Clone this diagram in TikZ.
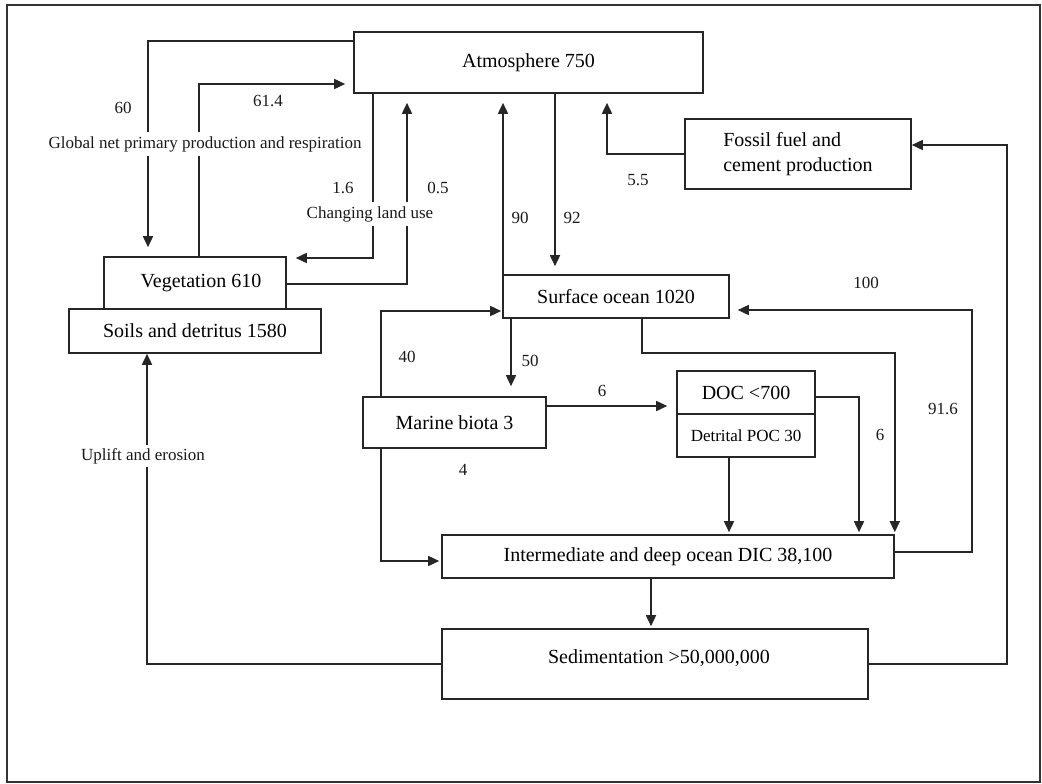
\documentclass[tikz,border=0pt]{standalone}
\usepackage{fontspec}
\setmainfont{Liberation Serif}
\usetikzlibrary{arrows.meta}
\tikzset{
  x=1pt, y=-1pt,
  box/.style={draw=black!85, line width=1.6pt, rectangle, inner sep=0pt, font=\fontsize{20}{25}\selectfont},
  lbl/.style={inner sep=2pt, font=\fontsize{17}{20}\selectfont, text=black!90},
  wlbl/.style={lbl, fill=white, inner sep=4pt},
  arr/.style={draw=black!85, line width=1.6pt, -{Triangle[length=11pt,width=10pt]}},
  ln/.style={draw=black!85, line width=1.6pt}
}
\begin{document}
\begin{tikzpicture}
\useasboundingbox (0,0) rectangle (1042,784);
\draw[line width=2pt, black!80] (7,5) rectangle (1040,782);

% boxes
\node[box, minimum width=349pt, minimum height=61pt] (atm) at (528.5,62.5) {Atmosphere 750};
\node[box, minimum width=226pt, minimum height=70pt, align=left] (fossil) at (798,154) {Fossil fuel and\\cement production};
\node[box, minimum width=182pt, minimum height=52pt] (veg) at (195,283) {\hspace*{12pt}Vegetation 610};
\node[box, minimum width=252pt, minimum height=44pt] (soils) at (195,331) {Soils and detritus 1580};
\node[box, minimum width=226pt, minimum height=43pt] (surf) at (616,296.5) {Surface ocean 1020};
\node[box, minimum width=183pt, minimum height=51pt] (marine) at (454.5,422.5) {Marine biota 3};
\node[box, minimum width=138pt, minimum height=43pt] (doctop) at (746,392.5) {DOC <700};
\node[box, minimum width=138pt, minimum height=43pt, font=\fontsize{17}{20}\selectfont] (docbot) at (746,435.5) {Detrital POC 30};
\node[box, minimum width=452pt, minimum height=43pt] (int) at (668,556.5) {Intermediate and deep ocean DIC 38,100};
\node[box, minimum width=426pt, minimum height=70pt] (sed) at (655,664) {};
\node[box, draw=none] (sedtxt) at (659,658) {Sedimentation >50,000,000};

% helper coordinates
\coordinate (c60) at (148,41);
\coordinate (c614) at (199,84);
\coordinate (c16) at (373,258);
\coordinate (c05) at (407,284);
\coordinate (c90) at (503,0);
\coordinate (c92) at (555,0);
\coordinate (c55) at (607,154);
\coordinate (cf1) at (1007,145);
\coordinate (c916) at (972,552);
\coordinate (c100) at (972,310);
\coordinate (cso) at (642,353);
\coordinate (c6b) at (859,397);
\coordinate (cdp) at (729,0);
\coordinate (c6a) at (0,406);
\coordinate (c50) at (511,0);
\coordinate (c40) at (381,311);
\coordinate (c4) at (381,561);
\coordinate (cis) at (651,0);
\coordinate (cup) at (147,664);

% connectors
\draw[arr, shorten >=9pt] (atm.west |- c60) -| (veg.north -| c60);
\draw[arr, shorten >=8pt] (veg.north -| c614) |- (atm.west |- c614);
\draw[arr, shorten >=9pt] (atm.south -| c16) |- (veg.east |- c16);
\draw[arr, shorten >=9pt] (veg.east |- c05) -| (atm.south -| c05);
\draw[arr, shorten >=9pt] (surf.north -| c90) -- (atm.south -| c90);
\draw[arr, shorten >=8pt] (atm.south -| c92) -- (surf.north -| c92);
\draw[arr, shorten >=9pt] (fossil.west |- c55) -| (atm.south -| c55);
\draw[arr] (sed.east) -| (cf1) -- (fossil.east |- cf1);
\draw[arr, shorten >=8pt] (int.east |- c916) -| (c100) -- (surf.east |- c100);
\draw[arr, shorten >=2pt] (surf.south -| cso) -- (cso) -| (int.north east);
\draw[arr, shorten >=2pt] (doctop.east |- c6b) -| (int.north -| c6b);
\draw[arr, shorten >=2pt] (docbot.south -| cdp) -- (int.north -| cdp);
\draw[arr, shorten >=9pt] (marine.east |- c6a) -- (doctop.west |- c6a);
\draw[arr, shorten >=10pt] (surf.south -| c50) -- (marine.north -| c50);
\draw[arr, shorten >=1pt] (marine.north -| c40) |- (surf.west |- c40);
\draw[arr, shorten >=2pt] (marine.south -| c4) |- (int.west |- c4);
\draw[arr, shorten >=2pt] (int.south -| cis) -- (sed.north -| cis);
\draw[arr] (sed.west |- cup) -| (soils.south -| cup);

% labels
\node[lbl] (l60) at (123,108) {60};
\node[lbl] (l614) at (268,101) {61.4};
\node[wlbl] (lgnp) at (205,144) {Global net primary production and respiration};
\node[lbl] (l16) at (343,188) {1.6};
\node[lbl] (l05) at (438,188) {0.5};
\node[wlbl] (lclu) at (370,214) {Changing land use};
\node[lbl] (l90) at (520,218) {90};
\node[lbl] (l92) at (572,218) {92};
\node[lbl] (l55) at (638,180) {5.5};
\node[lbl] (l100) at (866,283) {100};
\node[lbl] (l50) at (530,361) {50};
\node[lbl] (l40) at (407,357) {40};
\node[lbl] (l6a) at (602,391) {6};
\node[lbl] (l6b) at (880,435) {6};
\node[lbl] (l916) at (943,409) {91.6};
\node[lbl] (l4) at (463,470) {4};
\node[wlbl, inner sep=3pt] (lup) at (143,456) {Uplift and erosion};
\end{tikzpicture}
\end{document}
